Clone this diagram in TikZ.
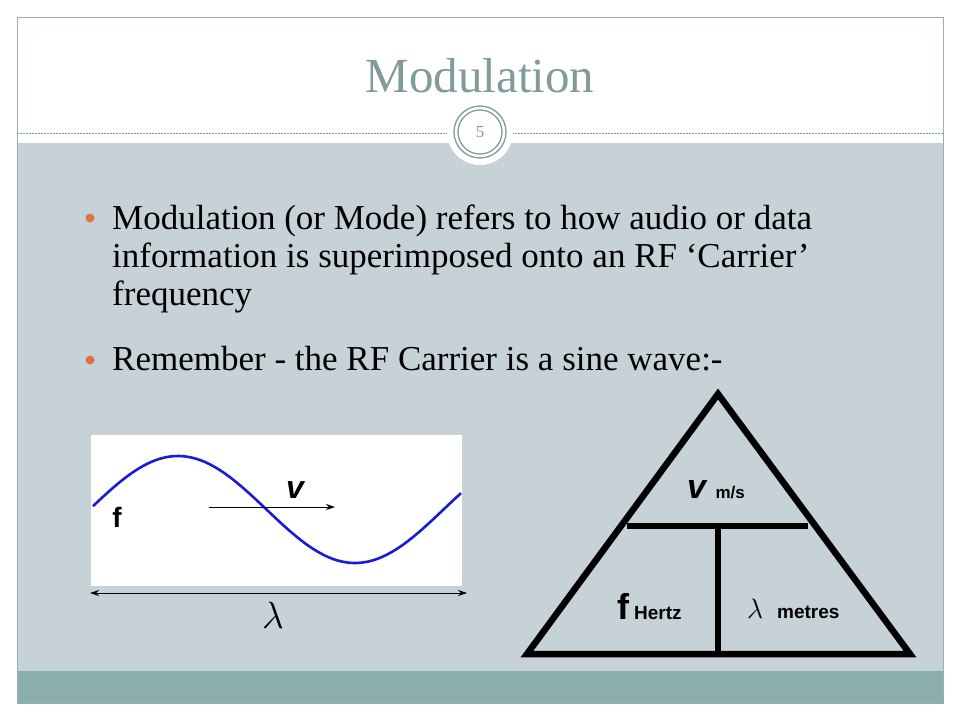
\RequirePackage{fix-cm}
\documentclass[tikz,border=0pt]{standalone}
\usepackage{fontspec}
\setmainfont{Liberation Serif}
\setsansfont{Liberation Sans}
\usetikzlibrary{arrows.meta, calc}
\definecolor{headgray}{HTML}{7F9C9A}
\definecolor{bodygray}{HTML}{C6D1D8}
\definecolor{bandteal}{HTML}{8AADAD}
\definecolor{bulletred}{HTML}{E0704F}
\definecolor{wave}{HTML}{1A1ADC}

\begin{document}
\begin{tikzpicture}[x=1pt, y=-1pt,
        bodytext/.style={anchor=base west, inner sep=0pt, font=\fontsize{35}{38}\selectfont},
        dotmark/.style={fill=bulletred, draw=none},
        sanslabel/.style={inner sep=0pt, font=\sffamily\bfseries},
        thickbar/.style={line width=6.5pt, line cap=butt}]
        \useasboundingbox (0,0) rectangle (960,720);
        \fill[white] (0,0) rectangle (960,720);
        
        \fill[bodygray] (17,143) rectangle (943,671);
        \fill[bandteal] (17,671) rectangle (943,703);
        \draw[headgray!80, line width=0.8pt] (17,17) rectangle (943,703);
        \draw[headgray, line width=0.8pt, dash pattern=on 2pt off 1pt] (17,133)--(943,133);
        
        \node[font=\fontsize{49}{49}\selectfont, text=headgray, anchor=base, inner sep=0pt] (title) at (480,92) {Modulation};
        \draw[fill=white, draw=none] (480,132) circle (33);
        \draw[headgray, line width=1.3pt] (480,132) circle (26);
        \draw[headgray, line width=1.3pt] (480,132) circle (22);
        \node[font=\fontsize{17}{17}\selectfont, text=headgray] (pagenum) at (480,132) {5};
        
        \fill[dotmark] (90,218) circle (4.5);
        \node[bodytext] (t1) at (112,229) {Modulation (or Mode) refers to how audio or data};
        \node[bodytext] (t2) at (112,267) {information is superimposed onto an RF ‘Carrier’};
        \node[bodytext] (t3) at (112,305) {frequency};
        \fill[dotmark] (90,360) circle (4.5);
        \node[bodytext] (t4) at (112,370) {Remember - the RF Carrier is a sine wave:-};
        
        % sine wave box
        \fill[white] (91,435) rectangle (462,586);
        \draw[wave, line width=2.6pt] plot[domain=93:461, samples=90] (\x, {509.5+53.5*cos((\x-355)/354*360)});
        \node[sanslabel, font=\fontsize{28}{28}\sffamily\bfseries, anchor=base] (fwave) at (117,527) {f};
        \node[sanslabel, font=\fontsize{32}{32}\sffamily\bfseries\itshape, anchor=base] (vwave) at (295,498) {v};
        \coordinate (vstart) at (209,507);
        \coordinate (vend) at (335,507);
        \draw[-{Stealth[length=9pt, width=6pt]}, line width=0.9pt] (vstart) -- (vend);
        \coordinate (lleft) at (90,593);
        \coordinate (lright) at (467,593);
        \draw[{Stealth[length=9pt, width=6pt]}-{Stealth[length=9pt, width=6pt]}, line width=0.9pt] (lleft) -- (lright);
        \node[anchor=base, inner sep=0pt, font=\fontsize{38}{38}\selectfont] (lamwave) at (273,628) {$\lambda$};
        
        % triangle
        \coordinate (apex) at (718,394);
        \coordinate (bl) at (527,654);
        \coordinate (br) at (910,654);
        \coordinate (barl) at (627,526);
        \coordinate (barr) at (808,526);
        \coordinate (barm) at (718,526);
        \coordinate (basem) at (718,654);
        \draw[line width=6.5pt, line join=miter] (apex)--(bl)--(br)--cycle;
        \draw[thickbar] (barl)--(barr);
        \draw[thickbar] (barm)--(basem);
        
        \node[anchor=base west, inner sep=0pt] (vms) at (687,498) {\fontsize{34}{34}\sffamily\bfseries\itshape v\ \upshape\fontsize{17}{17}\selectfont m/s};
        \node[anchor=base west, inner sep=0pt] (fhz) at (617,619) {\fontsize{36}{36}\sffamily\bfseries f\kern5pt\fontsize{19}{19}\selectfont Hertz};
        \node[anchor=base west, inner sep=0pt] (lmet) at (747,618) {\fontsize{28}{28}\selectfont$\lambda$\ \ \fontsize{19}{19}\sffamily\bfseries metres};
\end{tikzpicture}
\end{document}
